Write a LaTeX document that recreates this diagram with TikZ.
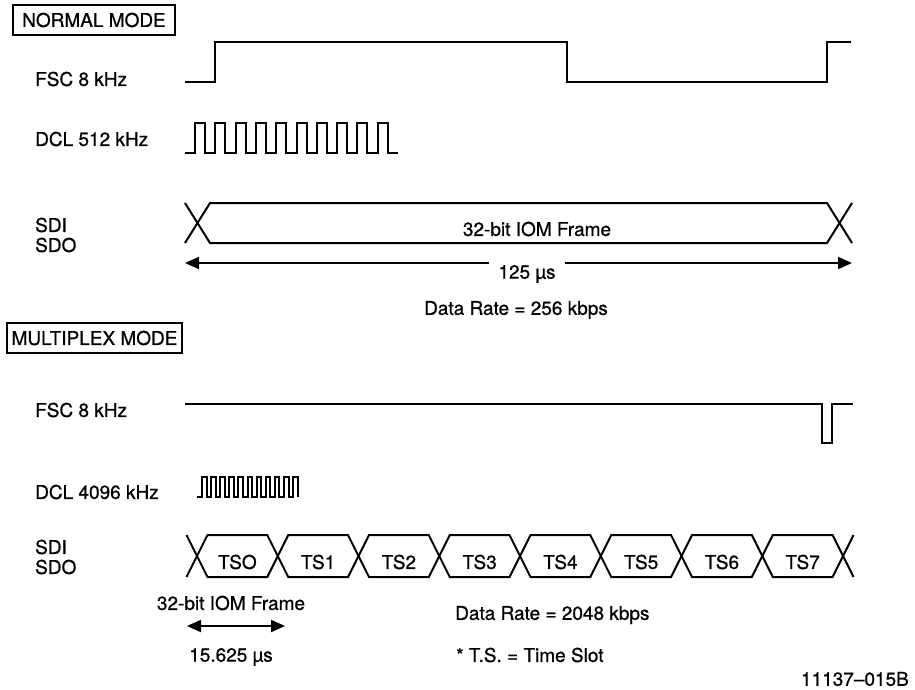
\documentclass[tikz,border=0pt]{standalone}
\usepackage{fontspec}
\setmainfont{TeX Gyre Heros}[FakeBold=0.8,AutoFakeBold=0.8]
\usetikzlibrary{arrows.meta}
\begin{document}
\begin{tikzpicture}[x=1pt,y=-1pt,
  every node/.style={font=\fontsize{19}{23}\selectfont, inner sep=0pt},
  sig/.style={line width=2pt, line join=miter},
  lbl/.style={anchor=west},
  modebox/.style={draw, line width=1.3pt, minimum height=30pt},
  dimarrow/.style={line width=2pt, -{Triangle[length=14pt,width=12pt]}},
  dimboth/.style={line width=2pt, {Triangle[length=14pt,width=12pt]}-{Triangle[length=14pt,width=12pt]}}]
\useasboundingbox (0,0) rectangle (915,690);

% ---------------- NORMAL MODE ----------------
\node[modebox, minimum width=162pt] (nmode) at (94,20) {\bfseries NORMAL MODE};
\node[lbl] (nfsc) at (35,79) {\bfseries FSC 8 kHz};
\node[lbl] (ndcl) at (35,139) {\bfseries DCL 512 kHz};
\node[lbl, align=left, font=\fontsize{19}{20}\selectfont\bfseries] (nsd) at (35,235) {SDI\\SDO};

\draw[sig] (185,82) -- (215,82) -- (215,42) -- (567,42) -- (567,82) -- (827,82) -- (827,42) -- (851,42);

\draw[sig] (185,153) -- (195,153)
  \foreach \i in {0,...,9} { -- ++(0,-30) -- ++(10,0) -- ++(0,30) -- ++(10.3,0) };

\draw[sig] (185,203) -- (210,243) -- (827,243) -- (852,203);
\draw[sig] (185,243) -- (210,203) -- (827,203) -- (852,243);
\node (nframe) at (537,229) {\bfseries 32-bit IOM Frame};

\coordinate (na1) at (185,263);
\coordinate (na2) at (852,263);
\node[inner xsep=9pt] (n125) at (527,274) {\bfseries 125 µs};
\draw[dimarrow] (n125.west |- na1) -- (na1);
\draw[dimarrow] (n125.east |- na2) -- (na2);

\node (nrate) at (516,310) {\bfseries Data Rate = 256 kbps};

% ---------------- MULTIPLEX MODE ----------------
\node[modebox, minimum width=175pt] (mmode) at (94.5,338) {\bfseries MULTIPLEX MODE};
\node[lbl] (mfsc) at (35,410) {\bfseries FSC 8 kHz};
\node[lbl] (mdcl) at (35,492) {\bfseries DCL 4096 kHz};
\node[lbl, align=left, font=\fontsize{19}{20}\selectfont\bfseries] (msd) at (35,557) {SDI\\SDO};

\draw[sig] (185,404) -- (822,404) -- (822,443) -- (832,443) -- (832,404) -- (853,404);

\draw[sig] (197,497) -- (202,497)
  \foreach \i in {0,...,9} { -- ++(0,-20) -- ++(4.6,0) -- ++(0,20) -- ++(4.5,0) }
  -- ++(0,-20) -- ++(4.6,0) -- ++(0,20);

\draw[sig] (186.5,535) -- (207.5,577) -- (267.25,577) -- (288.25,535) -- (348,535) -- (369,577)
  -- (428.75,577) -- (449.75,535) -- (509.5,535) -- (530.5,577) -- (590.25,577) -- (611.25,535)
  -- (671,535) -- (692,577) -- (751.75,577) -- (772.75,535) -- (832.5,535) -- (853.5,577);
\draw[sig] (186.5,577) -- (207.5,535) -- (267.25,535) -- (288.25,577) -- (348,577) -- (369,535)
  -- (428.75,535) -- (449.75,577) -- (509.5,577) -- (530.5,535) -- (590.25,535) -- (611.25,577)
  -- (671,577) -- (692,535) -- (751.75,535) -- (772.75,577) -- (832.5,577) -- (853.5,535);

\node (ts0) at (237.4,562) {\bfseries TSO};
\node (ts1) at (318.1,562) {\bfseries TS1};
\node (ts2) at (398.9,562) {\bfseries TS2};
\node (ts3) at (479.6,562) {\bfseries TS3};
\node (ts4) at (560.4,562) {\bfseries TS4};
\node (ts5) at (641.1,562) {\bfseries TS5};
\node (ts6) at (721.9,562) {\bfseries TS6};
\node (ts7) at (802.6,562) {\bfseries TS7};

\node (mframe) at (231,603) {\bfseries 32-bit IOM Frame};
\coordinate (ma1) at (187,626);
\coordinate (ma2) at (285,626);
\draw[dimboth] (ma1) -- (ma2);
\node (m15) at (231,657) {\bfseries 15.625 µs};

\node[anchor=west] (mrate) at (455,615) {\bfseries Data Rate = 2048 kbps};
\node[anchor=west] (mts) at (456,655) {\bfseries * T.S. = Time Slot};
\node[anchor=east] (fig) at (909,679) {\bfseries 11137–015B};
\end{tikzpicture}
\end{document}
